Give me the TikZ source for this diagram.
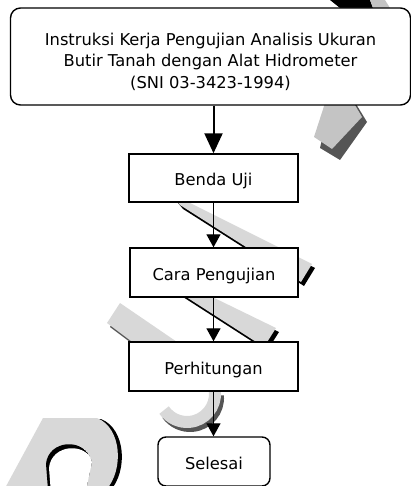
\documentclass[tikz,border=0pt]{standalone}
\usepackage{fontspec}
\setmainfont{DejaVu Sans}
\usetikzlibrary{arrows.meta}
\definecolor{wmL}{HTML}{D8D8D8}
\definecolor{wmM}{HTML}{C4C4C4}
\definecolor{wmD}{HTML}{555555}
\begin{document}
\begin{tikzpicture}[x=1pt,y=-1pt,
  box/.style={draw,line width=1.4pt,fill=white,font=\fontsize{16.3}{21.5}\selectfont,inner sep=0pt},
  stepbox/.style={box,text height=15pt,text depth=0pt},
  arr/.style={line width=1.3pt,-{Triangle[length=13pt,width=14pt]}},
  bigarr/.style={line width=2pt,-{Triangle[length=20pt,width=18pt]}}]
\useasboundingbox (0,0) rectangle (411,486);
\begin{scope}
\clip (0,0) rectangle (411,486);
% watermark: top right
\fill[black] (330,0) -- (370,0) -- (373,8) -- (340,8) -- cycle;
\fill[wmM] (370,0) -- (385,0) -- (390,8) -- (373,8) -- cycle;
\fill[wmD] (330,104) -- (356,104) -- (367,122) -- (340,160) -- (320,148) -- cycle;
\fill[wmM] (326,100) -- (352,100) -- (362,117) -- (332,149) -- (314,137) -- cycle;
% band A
\begin{scope}[shift={(3,4)}]
\fill[black] (170,193) -- (312,264) -- (301,282) -- (180,205) -- cycle;
\end{scope}
\fill[wmL] (170,193) -- (312,264) -- (301,282) -- (180,205) -- cycle;
% band B
\begin{scope}[shift={(3,4)}]
\fill[black] (200,291) -- (276,328) -- (264,347) -- (180,293) -- cycle;
\end{scope}
\fill[wmL] (200,291) -- (276,328) -- (264,347) -- (180,293) -- cycle;
% band C
\begin{scope}[shift={(3,4)}]
\fill[wmD] (107,323) -- (120,303) -- (180,344) -- (135,344) -- cycle;
\end{scope}
\fill[wmL] (107,323) -- (120,303) -- (180,344) -- (135,344) -- cycle;
% J curve
\draw[wmD,line width=12pt] (190,398) ++(-5:28) arc[start angle=-5,end angle=145,radius=28];
\draw[wmL,line width=12pt] (187,394) ++(-5:28) arc[start angle=-5,end angle=145,radius=28];
% D
\begin{scope}[shift={(4,1)}]
\fill[black] (43,418) -- (97,418) .. controls (122,428) and (124,470) .. (106,490) -- (4,490) -- cycle;
\end{scope}
\fill[wmL] (43,418) -- (97,418) .. controls (122,428) and (124,470) .. (106,490) -- (4,490) -- cycle;
\begin{scope}
\clip (48,490) -- (46,464) .. controls (48,440) and (85,436) .. (92,462) -- (86,490) -- cycle;
\fill[black] (48,490) -- (46,464) .. controls (48,440) and (85,436) .. (92,462) -- (86,490) -- cycle;
\begin{scope}[shift={(3,4)}]
\fill[white] (48,490) -- (46,464) .. controls (48,440) and (85,436) .. (92,462) -- (86,490) -- cycle;
\end{scope}
\end{scope}
\end{scope}
% flowchart
\node[box,rounded corners=10pt,minimum width=400pt,minimum height=97pt,align=center] (top) at (210.5,56.5)
  {\rule{0pt}{22.4pt}Instruksi Kerja Pengujian Analisis Ukuran\\Butir Tanah dengan Alat Hidrometer\\(SNI 03-3423-1994)};
\node[stepbox,minimum width=169pt,minimum height=48pt] (benda) at (213.5,178) {Benda Uji};
\node[stepbox,minimum width=168pt,minimum height=49pt] (cara) at (214,272.5) {Cara Pengujian};
\node[stepbox,minimum width=169pt,minimum height=49pt] (perh) at (213.5,366.5) {Perhitungan};
\node[stepbox,rounded corners=8pt,minimum width=112pt,minimum height=49pt] (sel) at (214,461.5) {Selesai};
\draw[bigarr] (top.south -| benda.north) -- (benda.north);
\draw[arr] (benda.south) -- (benda.south |- cara.north);
\draw[arr] (cara.south -| benda.south) -- (perh.north);
\draw[arr] (perh.south) -- (perh.south |- sel.north);
\end{tikzpicture}
\end{document}
